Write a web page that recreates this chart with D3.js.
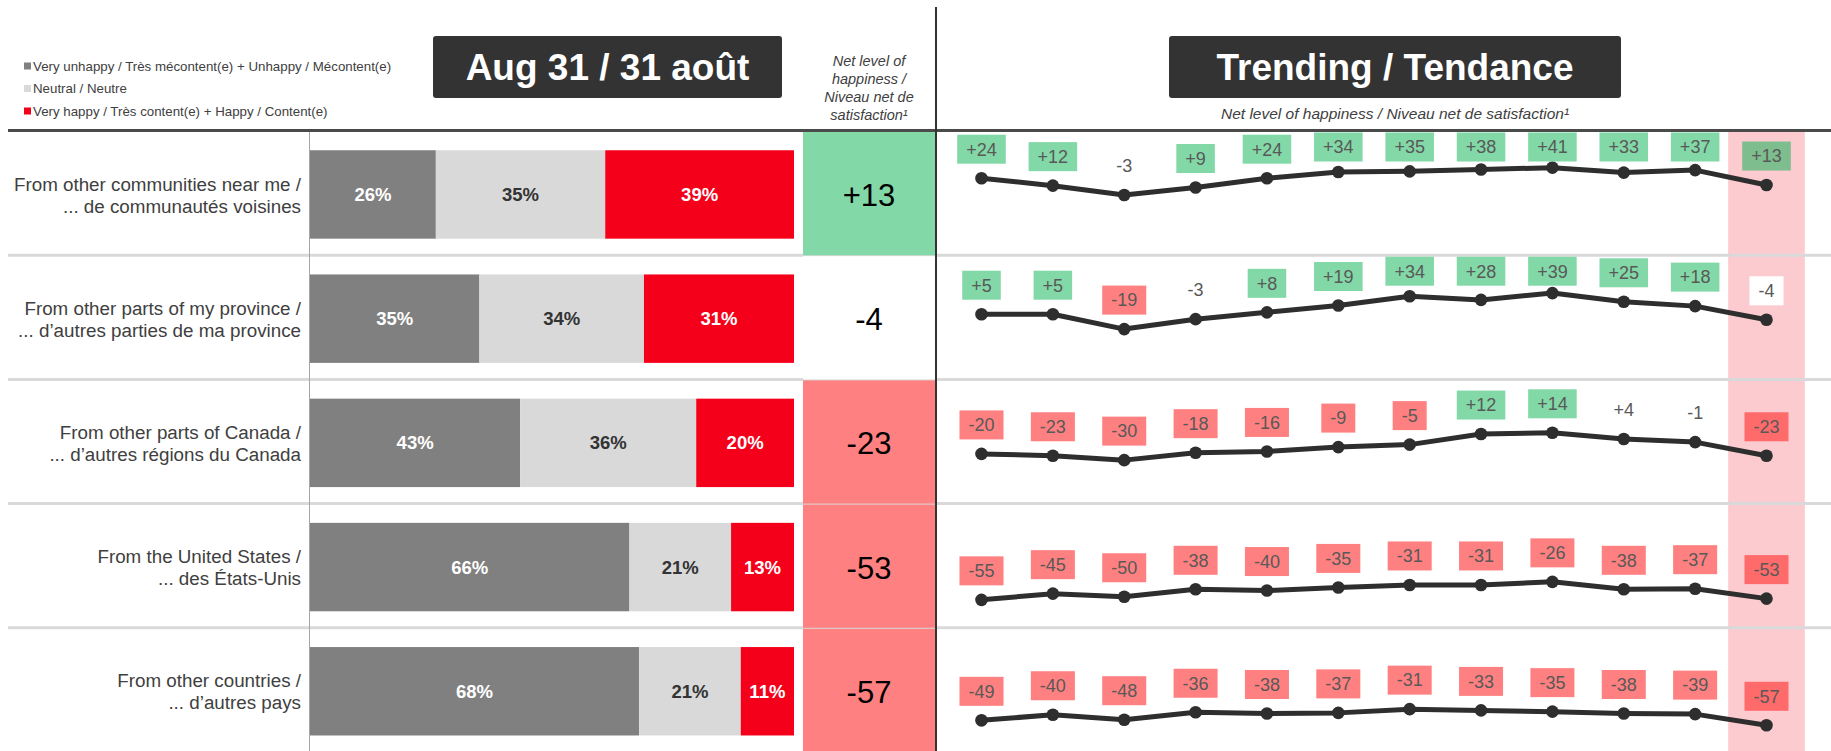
<!DOCTYPE html>
<html>
<head>
<meta charset="utf-8">
<script src="https://cdn.jsdelivr.net/npm/d3@7"></script>
<style>
  body { margin: 0; background: #fff; }
  svg { display: block; font-family: "Liberation Sans", Arial, sans-serif; }
</style>
</head>
<body>
<svg id="chart" width="1831" height="751"></svg>
<script>
// ---- data ----
const categories = [
  "From other communities near me /\n... de communautés voisines",
  "From other parts of my province /\n... d’autres parties de ma province",
  "From other parts of Canada /\n... d’autres régions du Canada",
  "From the United States /\n... des États-Unis",
  "From other countries /\n... d’autres pays"
];
const unhappy = [26, 35, 43, 66, 68];
const neutral = [35, 34, 36, 21, 21];
const happy = [39, 31, 20, 13, 11];
const netLevel = [13, -4, -23, -53, -57];

const legendLabels = [
  "Very unhappy / Très mécontent(e) + Unhappy / Mécontent(e)",
  "Neutral / Neutre",
  "Very happy / Très content(e) + Happy / Content(e)"
];

// trend waves (no labels shown on the chart)
const periods = ["W1", "W2", "W3", "W4", "W5", "W6", "W7", "W8", "W9", "W10", "W11", "W12"];
const trendCommunities = [24, 12, -3, 9, 24, 34, 35, 38, 41, 33, 37, 13];
const trendProvince = [5, 5, -19, -3, 8, 19, 34, 28, 39, 25, 18, -4];
const trendCanada = [-20, -23, -30, -18, -16, -9, -5, 12, 14, 4, -1, -23];
const trendUS = [-55, -45, -50, -38, -40, -35, -31, -31, -26, -38, -37, -53];
const trendOther = [-49, -40, -48, -36, -38, -37, -31, -33, -35, -38, -39, -57];

// ---- styles ----
const colUnhappy = "#808080", colNeutral = "#d9d9d9", colHappy = "#f5001a";
const colGood = "#82d8a7", colBad = "#ff8080";
const colGoodLast = "#7dbd8e", colBadLast = "#ff6a6a";
const colHighlight = "#fccbd0";
const textGrey = "#404040";

const svg = d3.select("#chart");
const width = 1831, height = 751;

const fmtNet = v => v > 0 ? "+" + v : String(v);

// rows of the table
const rows = d3.scaleBand().domain(categories).range([131, 752]).padding(0);
const bw = rows.bandwidth();

// bar scale (stacked, expanded to 100%)
const x = d3.scaleLinear().domain([0, 1]).range([310, 794]);
const table = categories.map((c, i) => ({ category: c, unhappy: unhappy[i], neutral: neutral[i], happy: happy[i] }));
const keys = ["unhappy", "neutral", "happy"];
const fills = { unhappy: colUnhappy, neutral: colNeutral, happy: colHappy };
const labelFills = { unhappy: "#fff", neutral: "#333", happy: "#fff" };
const stacked = d3.stack().keys(keys).offset(d3.stackOffsetExpand)(table);

// trend scale
const xT = d3.scalePoint().domain(periods).range([981.5, 1766.5]);
const trends = [trendCommunities, trendProvince, trendCanada, trendUS, trendOther];

// ---- highlight band for the latest wave ----
const lastPeriod = periods[periods.length - 1];
svg.append("rect")
  .attr("x", xT(lastPeriod) - xT.step() * 0.537)
  .attr("y", 132)
  .attr("width", xT.step() * 1.074)
  .attr("height", height - 132)
  .attr("fill", colHighlight);

// ---- row separators ----
svg.selectAll(".sep")
  .data(categories.slice(1))
  .join("line")
  .attr("class", "sep")
  .attr("x1", 8).attr("x2", width)
  .attr("y1", d => rows(d)).attr("y2", d => rows(d))
  .attr("stroke", "#d9d9d9")
  .attr("stroke-width", 3);

// ---- net level column ----
const netX0 = 803, netX1 = 935;
svg.selectAll(".netbox")
  .data(netLevel)
  .join("rect")
  .attr("class", "netbox")
  .attr("x", netX0)
  .attr("y", (d, i) => rows(categories[i]) + 1)
  .attr("width", netX1 - netX0)
  .attr("height", bw - 1)
  .attr("fill", d => d >= 5 ? colGood : d <= -5 ? colBad : "#fff");

svg.selectAll(".nettext")
  .data(netLevel)
  .join("text")
  .attr("class", "nettext")
  .attr("x", (netX0 + netX1) / 2)
  .attr("y", (d, i) => rows(categories[i]) + bw / 2 + 2)
  .attr("dy", "0.35em")
  .attr("text-anchor", "middle")
  .attr("font-size", 31)
  .attr("fill", "#000")
  .text(fmtNet);

// ---- frame lines ----
svg.append("line")
  .attr("x1", 8).attr("x2", width).attr("y1", 130.5).attr("y2", 130.5)
  .attr("stroke", "#4a4a4a").attr("stroke-width", 3);
svg.append("line")
  .attr("x1", 936).attr("x2", 936).attr("y1", 7).attr("y2", height)
  .attr("stroke", "#333").attr("stroke-width", 2);
svg.append("line")
  .attr("x1", 309.5).attr("x2", 309.5).attr("y1", 132).attr("y2", height)
  .attr("stroke", "#a6a6a6").attr("stroke-width", 1);

// ---- legend ----
const legend = svg.append("g").attr("transform", "translate(24,0)");
const legendY = [66, 88.5, 111];
legendLabels.forEach((lbl, i) => {
  legend.append("rect")
    .attr("x", 0).attr("y", legendY[i] - 3.5)
    .attr("width", 7).attr("height", 7)
    .attr("fill", [colUnhappy, colNeutral, colHappy][i]);
  legend.append("text")
    .attr("x", 9).attr("y", legendY[i]).attr("dy", "0.35em")
    .attr("font-size", 13.3).attr("fill", textGrey)
    .text(lbl);
});

// ---- header boxes ----
function headerBox(x0, x1, label) {
  svg.append("rect")
    .attr("x", x0).attr("y", 36).attr("width", x1 - x0).attr("height", 62)
    .attr("rx", 3).attr("fill", "#333");
  svg.append("text")
    .attr("x", (x0 + x1) / 2).attr("y", 67).attr("dy", "0.35em")
    .attr("text-anchor", "middle")
    .attr("font-size", 37).attr("font-weight", "bold").attr("fill", "#fff")
    .text(label);
}
headerBox(433, 782, "Aug 31 / 31 août");
headerBox(1169, 1621, "Trending / Tendance");

const netHeader = ["Net level of", "happiness /", "Niveau net de", "satisfaction¹"];
const netHeaderY = [61, 79.3, 97.3, 114.5];
svg.append("g").selectAll("text")
  .data(netHeader)
  .join("text")
  .attr("x", (netX0 + netX1) / 2)
  .attr("y", (d, i) => netHeaderY[i]).attr("dy", "0.35em")
  .attr("text-anchor", "middle")
  .attr("font-size", 14.5).attr("font-style", "italic").attr("fill", textGrey)
  .text(d => d);

svg.append("text")
  .attr("x", 1395).attr("y", 113.5).attr("dy", "0.35em")
  .attr("text-anchor", "middle")
  .attr("font-size", 15.5).attr("font-style", "italic").attr("fill", textGrey)
  .text("Net level of happiness / Niveau net de satisfaction¹");

// ---- category labels ----
const catLabels = svg.append("g").selectAll("text")
  .data(categories)
  .join("text")
  .attr("text-anchor", "end")
  .attr("font-size", 18.8)
  .attr("fill", textGrey);
catLabels.selectAll("tspan")
  .data(d => d.split("\n").map((line, k) => ({ line, k, c: d })))
  .join("tspan")
  .attr("x", 301)
  .attr("y", d => rows(d.c) + bw / 2 + 2 + (d.k === 0 ? -11 : 11))
  .attr("dy", "0.35em")
  .text(d => d.line);

// ---- stacked bars ----
const barTop = c => rows(c) + bw * 0.155;
const barH = bw * 0.712;
const layers = svg.append("g").selectAll("g")
  .data(stacked)
  .join("g")
  .attr("fill", d => fills[d.key]);
layers.selectAll("rect")
  .data(d => d)
  .join("rect")
  .attr("x", d => x(d[0]))
  .attr("y", d => barTop(d.data.category))
  .attr("width", d => x(d[1]) - x(d[0]))
  .attr("height", barH);
layers.selectAll("text")
  .data(d => d.map(p => ({ p, key: d.key })))
  .join("text")
  .attr("x", d => (x(d.p[0]) + x(d.p[1])) / 2)
  .attr("y", d => barTop(d.p.data.category) + barH / 2)
  .attr("dy", "0.35em")
  .attr("text-anchor", "middle")
  .attr("font-size", 18.5).attr("font-weight", "bold")
  .attr("fill", d => labelFills[d.key])
  .text(d => d.p.data[d.key] + "%");

// ---- trend lines ----
function trendFill(v, last) {
  if (v >= 5) return last ? colGoodLast : colGood;
  if (v <= -5) return last ? colBadLast : colBad;
  return "#fff";
}

const trendG = svg.append("g");
trends.forEach((values, i) => {
  const c = categories[i];
  const top = rows(c);
  const y = d3.scaleLinear().domain([-100, 100]).range([top + bw, top]);
  const pts = values.map((v, j) => ({ period: periods[j], value: v, last: j === values.length - 1 }));

  trendG.append("path")
    .datum(pts)
    .attr("fill", "none")
    .attr("stroke", "#2e2e2e")
    .attr("stroke-width", 5)
    .attr("stroke-linejoin", "round")
    .attr("d", d3.line().x(d => xT(d.period)).y(d => y(d.value)));

  trendG.append("g").selectAll("circle")
    .data(pts)
    .join("circle")
    .attr("cx", d => xT(d.period))
    .attr("cy", d => y(d.value))
    .attr("r", 6.3)
    .attr("fill", "#2e2e2e");

  const boxH = 29;
  const lbl = trendG.append("g").selectAll("g")
    .data(pts)
    .join("g")
    .attr("transform", d => {
      const cy = Math.max(y(d.value) - 29, top + 1.5 + boxH / 2);
      return `translate(${xT(d.period)},${cy})`;
    });
  const rects = lbl.append("rect")
    .attr("y", -boxH / 2).attr("height", boxH)
    .attr("fill", d => trendFill(d.value, d.last));
  const texts = lbl.append("text")
    .attr("dy", "0.35em")
    .attr("text-anchor", "middle")
    .attr("font-size", 18)
    .attr("fill", "#595959")
    .text(d => fmtNet(d.value));
  // size each box to its text
  texts.each(function (d, j) {
    const w = this.getComputedTextLength() + 18;
    d3.select(rects.nodes()[j]).attr("x", -w / 2).attr("width", w);
  });
});
</script>
</body>
</html>
